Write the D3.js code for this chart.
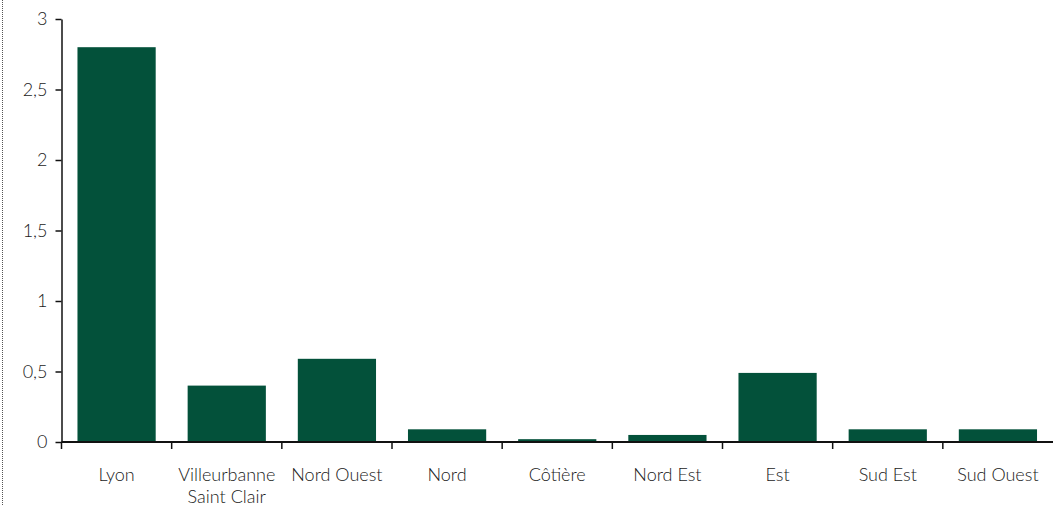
<!DOCTYPE html>
<html>
<head>
<meta charset="utf-8">
<script src="https://cdn.jsdelivr.net/npm/d3@7"></script>
<style>
  body { margin: 0; background: #fff; }
  svg { display: block; }
  text { font-family: "Lato", "Open Sans", sans-serif; font-weight: 300; fill: #1a1a1a; }
</style>
</head>
<body>
<div id="chart"></div>
<script>
const categories = ["Lyon", "Villeurbanne\nSaint Clair", "Nord Ouest", "Nord", "Côtière", "Nord Est", "Est", "Sud Est", "Sud Ouest"];
const values = [2.8, 0.4, 0.59, 0.09, 0.02, 0.05, 0.49, 0.09, 0.09];
const yTicks = [0, 0.5, 1, 1.5, 2, 2.5, 3];

const width = 1053, height = 506;
const margin = {top: 19, right: 0, bottom: 64, left: 61.5};

const svg = d3.select("#chart").append("svg")
    .attr("width", width)
    .attr("height", height);

// dotted frame edge on the left
svg.append("line")
    .attr("x1", 2.5).attr("x2", 2.5)
    .attr("y1", 0).attr("y2", height)
    .attr("stroke", "#555")
    .attr("stroke-width", 1)
    .attr("stroke-dasharray", "1,1");

const x = d3.scaleBand()
    .domain(categories)
    .range([margin.left, width - margin.right])
    .paddingInner(0.29)
    .paddingOuter(0.145);

const y = d3.scaleLinear()
    .domain([0, 3])
    .range([height - margin.bottom, margin.top]);

// bars
svg.append("g").selectAll("rect")
    .data(values)
    .join("rect")
    .attr("x", (d, i) => x(categories[i]))
    .attr("y", d => y(d))
    .attr("width", x.bandwidth())
    .attr("height", d => y(0) - y(d))
    .attr("fill", "#03513a");

// y axis
const yAxis = svg.append("g")
    .attr("transform", "translate(" + margin.left + ",0)")
    .call(d3.axisLeft(y).tickValues(yTicks)
        .tickFormat(d => String(d).replace(".", ","))
        .tickSize(6).tickPadding(8).tickSizeOuter(0));
yAxis.select(".domain").attr("stroke", "#111").attr("stroke-width", 1.5);
yAxis.selectAll(".tick line").attr("stroke", "#111").attr("stroke-width", 1.5);
yAxis.selectAll(".tick text").attr("font-size", 18).attr("fill", "#1a1a1a")
    .attr("font-family", "Lato, 'Open Sans', sans-serif");

// x axis: baseline with ticks on category boundaries
const boundaries = d3.range(categories.length + 1).map(i => margin.left + i * ((width - margin.right - margin.left) / categories.length));
const xAxis = svg.append("g");
xAxis.append("line")
    .attr("x1", margin.left).attr("x2", width - margin.right)
    .attr("y1", y(0)).attr("y2", y(0))
    .attr("stroke", "#111").attr("stroke-width", 2);
xAxis.selectAll("line.tick")
    .data(boundaries.slice(0, -1))
    .join("line")
    .attr("class", "tick")
    .attr("x1", d => d).attr("x2", d => d)
    .attr("y1", y(0)).attr("y2", y(0) + 7)
    .attr("stroke", "#111").attr("stroke-width", 1.5);

// category labels
xAxis.selectAll("text")
    .data(categories)
    .join("text")
    .attr("text-anchor", "middle")
    .attr("font-size", 18)
    .attr("transform", d => "translate(" + (x(d) + x.bandwidth() / 2) + "," + (y(0) + 39) + ")")
    .each(function(d) {
        const lines = d.split("\n");
        d3.select(this).selectAll("tspan")
            .data(lines)
            .join("tspan")
            .attr("x", 0)
            .attr("dy", (l, i) => i === 0 ? 0 : 22)
            .text(l => l);
    });
</script>
</body>
</html>
